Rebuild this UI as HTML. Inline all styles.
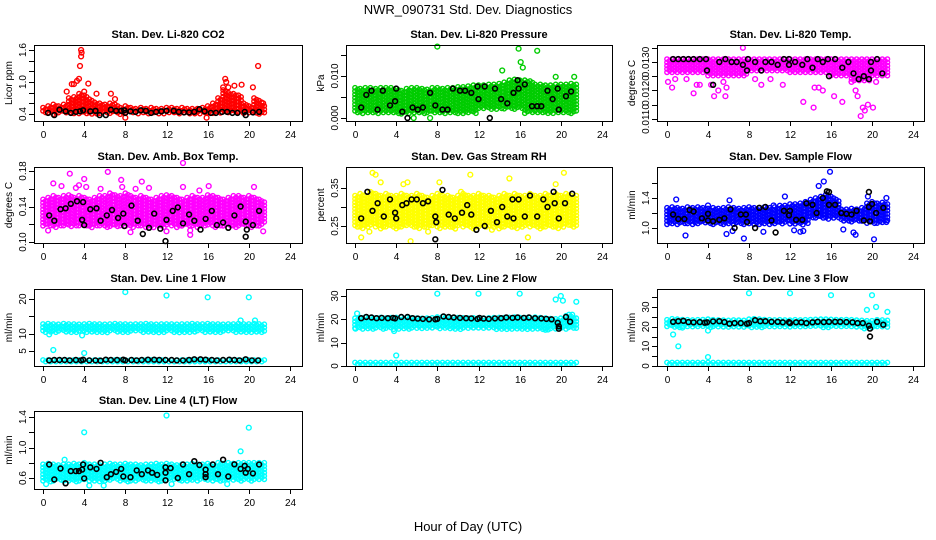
<!DOCTYPE html>
<html><head><meta charset="utf-8"><title>NWR_090731 Std. Dev. Diagnostics</title>
<style>html,body{margin:0;padding:0;background:#fff}svg{display:block}text{font-family:"Liberation Sans",Arial,sans-serif}</style>
</head><body>
<svg id="chart" width="936" height="540" viewBox="0 0 936 540" xmlns="http://www.w3.org/2000/svg">
<rect width="936" height="540" fill="#fff"/>
<text x="468" y="14" text-anchor="middle" font-size="13">NWR_090731 Std. Dev. Diagnostics</text>
<text x="468" y="531" text-anchor="middle" font-size="13">Hour of Day (UTC)</text>
</svg>
<script>
const hours=[0,0.5,1,1.5,2,2.5,3,3.5,4,4.5,5,5.5,6,6.5,7,7.5,8,8.5,9,9.5,10,10.5,11,11.5,12,12.5,13,13.5,14,14.5,15,15.5,16,16.5,17,17.5,18,18.5,19,19.5,20,20.5,21,21.5];
const xTicks=[0,4,8,12,16,20,24];

const co2Lo=[0.4,0.4,0.39,0.4,0.4,0.41,0.4,0.4,0.4,0.4,0.4,0.41,0.4,0.4,0.4,0.39,0.4,0.4,0.4,0.4,0.4,0.41,0.4,0.4,0.4,0.4,0.4,0.4,0.4,0.4,0.4,0.4,0.4,0.4,0.41,0.42,0.42,0.42,0.42,0.41,0.4,0.41,0.4,0.4];
const co2Hi=[0.52,0.55,0.58,0.55,0.58,0.7,0.72,0.78,0.75,0.68,0.62,0.6,0.58,0.6,0.58,0.52,0.55,0.52,0.5,0.52,0.5,0.52,0.5,0.5,0.52,0.52,0.5,0.52,0.5,0.5,0.5,0.52,0.55,0.6,0.7,0.85,0.8,0.78,0.75,0.6,0.55,0.7,0.65,0.55];
const co2Out=[[3.7,1.6],[3.75,1.55],[3.7,1.48],[3.6,1.3],[3.5,1.06],[3.3,1.02],[4.4,0.97],[2.8,0.96],[3.0,0.96],[4.0,0.82],[2.3,0.82],[5.2,0.78],[6.6,0.78],[7.0,0.68],[17.7,1.06],[17.8,1.0],[18.6,0.93],[19.3,0.95],[20.4,0.9],[20.9,1.3],[21.4,0.6],[8.0,0.33],[15.9,0.33],[17.5,0.9],[18.0,0.9]];
const co2Blk=[[0.5,0.42],[1.1,0.38],[1.6,0.48],[2.2,0.45],[2.7,0.42],[3.2,0.44],[3.6,0.45],[3.9,0.47],[4.6,0.45],[5.1,0.46],[5.5,0.38],[6.1,0.38],[6.6,0.48],[7.1,0.46],[7.6,0.46],[7.9,0.47],[8.0,0.42],[8.5,0.45],[9,0.44],[9.5,0.47],[10,0.46],[10.5,0.42],[11,0.44],[11.5,0.45],[12,0.46],[12.7,0.46],[13.2,0.44],[13.7,0.43],[14.2,0.43],[14.7,0.44],[15.2,0.49],[15.7,0.45],[16.3,0.42],[16.8,0.42],[17.4,0.44],[17.9,0.44],[18.4,0.42],[18.9,0.42],[19.6,0.44],[19.7,0.38],[20.4,0.43],[21.0,0.44]];

const presLo=[0.001,0.001,0.001,0.001,0.001,0.001,0.001,0.001,0.001,0.001,0.001,0.001,0.001,0.001,0.001,0.001,0.001,0.001,0.001,0.001,0.001,0.001,0.001,0.001,0.002,0.002,0.002,0.002,0.002,0.002,0.002,0.002,0.002,0.001,0.001,0.001,0.001,0.001,0.001,0.001,0.001,0.001,0.001,0.001];
const presHi=[0.0072,0.007,0.0072,0.0072,0.007,0.0072,0.0072,0.0072,0.007,0.0065,0.007,0.0072,0.0072,0.007,0.0068,0.0072,0.0072,0.007,0.0072,0.0072,0.0074,0.0074,0.0076,0.0078,0.0078,0.0078,0.008,0.008,0.0082,0.0085,0.009,0.0092,0.009,0.009,0.0088,0.008,0.008,0.0078,0.0078,0.008,0.008,0.008,0.0082,0.008];
const presOut=[[8,0.017],[15.9,0.0165],[17.7,0.016],[16.1,0.0133],[14.3,0.0113],[16.3,0.012],[19.5,0.0098],[21.3,0.0098],[7.3,0.0],[5.7,0.0]];
const presBlk=[[0.6,0.0025],[1.1,0.0055],[1.6,0.0065],[2.2,0.002],[2.7,0.0065],[3.4,0.003],[3.9,0.004],[4,0.007],[4.6,0.0015],[5.1,0.0],[5.6,0.0025],[6.1,0.002],[6.6,0.0025],[7.3,0.006],[7.8,0.003],[8.5,0.002],[9,0.002],[9.5,0.007],[10.2,0.0065],[10.7,0.0065],[11.3,0.006],[11.9,0.0075],[12,0.0045],[12.6,0.0075],[13.1,0.0],[13.6,0.007],[14.2,0.0045],[14.8,0.0035],[15.4,0.006],[15.8,0.009],[15.9,0.007],[16.5,0.008],[17.2,0.0028],[17.7,0.0028],[18.1,0.0028],[18.7,0.0065],[19.2,0.0045],[19.7,0.007],[19.8,0.002],[20.5,0.0052],[21,0.0063]];

const tempLo=[0.0126,0.0126,0.0126,0.0126,0.0126,0.0126,0.0126,0.0126,0.0125,0.0125,0.0125,0.0125,0.0125,0.0125,0.0125,0.0125,0.01265,0.01265,0.01265,0.01265,0.01265,0.01265,0.01265,0.01265,0.0126,0.0126,0.0126,0.0126,0.0126,0.0126,0.0126,0.0126,0.0125,0.0125,0.0125,0.0125,0.0123,0.0123,0.0123,0.0123,0.0125,0.0125,0.0125,0.0125];
const tempHi=[0.0131,0.0131,0.0131,0.0131,0.0131,0.0131,0.0131,0.0131,0.0131,0.0131,0.0131,0.0131,0.0131,0.0131,0.0131,0.0131,0.0131,0.0131,0.0131,0.0131,0.0131,0.0131,0.0131,0.0131,0.0131,0.0131,0.0131,0.0131,0.0131,0.0131,0.0131,0.0131,0.0131,0.0131,0.0131,0.0131,0.0131,0.0131,0.0131,0.0131,0.0131,0.0131,0.0131,0.0131];
const tempOut=[[0.1,0.0123],[0.5,0.0121],[0.8,0.0124],[1.9,0.0124],[2.6,0.0119],[2.9,0.0122],[3.2,0.0122],[4.3,0.0122],[4.6,0.0118],[5.0,0.012],[5.5,0.0123],[5.8,0.0121],[5.7,0.0118],[7.4,0.0135],[8.6,0.0124],[9.2,0.0122],[10.1,0.0124],[11.3,0.0122],[13.3,0.0116],[14.3,0.0114],[14.4,0.0121],[14.8,0.0121],[15.2,0.012],[16.3,0.0118],[17.1,0.0116],[18.0,0.0123],[18.4,0.012],[18.6,0.0118],[18.9,0.0111],[19.1,0.0114],[19.3,0.0113],[19.6,0.0115],[20.1,0.0114],[20.4,0.0123]];
const tempBlk=[[0.6,0.0131],[1.1,0.0131],[1.6,0.0131],[2.1,0.0131],[2.6,0.0131],[3.2,0.0131],[3.8,0.0131],[3.9,0.0127],[4.5,0.0122],[5.1,0.013],[5.7,0.0131],[6.3,0.013],[6.8,0.013],[7.4,0.0129],[7.9,0.0131],[7.8,0.0127],[8.6,0.013],[9.2,0.0127],[9.6,0.013],[10.2,0.013],[10.8,0.0129],[11.4,0.0131],[11.9,0.0131],[11.9,0.0129],[12.5,0.013],[13.2,0.0129],[13.7,0.0131],[14.2,0.0128],[14.7,0.0131],[15.2,0.013],[15.7,0.0131],[15.8,0.0125],[16.4,0.0131],[17.1,0.0128],[17.7,0.013],[18.2,0.0126],[18.7,0.0124],[19.2,0.0125],[19.7,0.0124],[19.9,0.0127],[19.9,0.013],[20.5,0.0131],[21,0.0126]];

const ambLo=[0.118,0.117,0.116,0.117,0.118,0.116,0.117,0.118,0.117,0.116,0.117,0.118,0.116,0.117,0.116,0.118,0.117,0.116,0.118,0.117,0.116,0.115,0.117,0.116,0.118,0.117,0.116,0.117,0.118,0.117,0.116,0.117,0.118,0.116,0.117,0.118,0.117,0.116,0.117,0.118,0.116,0.117,0.118,0.12];
const ambHi=[0.148,0.15,0.152,0.15,0.152,0.153,0.15,0.152,0.15,0.148,0.15,0.152,0.152,0.155,0.153,0.152,0.155,0.152,0.15,0.152,0.15,0.148,0.15,0.152,0.153,0.152,0.15,0.148,0.15,0.152,0.15,0.15,0.153,0.152,0.15,0.148,0.15,0.152,0.152,0.15,0.152,0.15,0.148,0.145];
const ambOut=[[1.0,0.166],[2.6,0.177],[3.2,0.161],[3.5,0.164],[4.0,0.171],[4.2,0.162],[5.6,0.16],[6.3,0.179],[7.6,0.17],[7.7,0.162],[9.0,0.16],[9.6,0.168],[10.3,0.161],[13.6,0.189],[13.6,0.162],[14.3,0.113],[15.2,0.158],[16.1,0.163],[20.5,0.162],[21.4,0.112],[12.0,0.112],[0.5,0.113],[1.8,0.163],[8.5,0.111],[14.3,0.108]];
const ambBlk=[[0.6,0.13],[1.1,0.124],[1.7,0.137],[2.2,0.138],[2.7,0.143],[3.3,0.146],[3.9,0.145],[3.8,0.125],[4.0,0.119],[4.6,0.137],[5.2,0.138],[5.6,0.124],[6.2,0.13],[6.7,0.136],[7.3,0.127],[7.8,0.132],[7.9,0.118],[8.6,0.141],[9.2,0.124],[9.7,0.109],[10.3,0.116],[10.8,0.132],[11.4,0.115],[11.9,0.101],[12.0,0.125],[12.6,0.135],[13.1,0.139],[13.6,0.121],[14.2,0.131],[14.7,0.124],[15.3,0.114],[15.8,0.126],[16.4,0.135],[16.9,0.119],[17.5,0.122],[18.0,0.116],[18.6,0.13],[19.2,0.14],[19.7,0.123],[19.8,0.114],[19.7,0.106],[20.4,0.119],[21.0,0.135]];

const rhLo=[0.245,0.24,0.245,0.25,0.245,0.24,0.245,0.245,0.24,0.245,0.25,0.245,0.24,0.245,0.245,0.25,0.24,0.245,0.245,0.24,0.25,0.245,0.245,0.24,0.245,0.245,0.25,0.245,0.24,0.245,0.245,0.24,0.245,0.25,0.245,0.245,0.24,0.245,0.245,0.24,0.245,0.25,0.245,0.245];
const rhHi=[0.33,0.335,0.33,0.34,0.335,0.33,0.335,0.33,0.33,0.335,0.33,0.33,0.335,0.33,0.325,0.33,0.335,0.33,0.33,0.325,0.33,0.335,0.33,0.33,0.335,0.33,0.33,0.325,0.33,0.335,0.33,0.335,0.33,0.33,0.335,0.33,0.33,0.335,0.33,0.335,0.33,0.335,0.33,0.33];
const rhOut=[[0.6,0.22],[1.4,0.235],[1.7,0.39],[2.0,0.385],[2.5,0.365],[4.7,0.36],[5.1,0.365],[5.4,0.21],[8.2,0.365],[10.3,0.34],[11.2,0.385],[15.0,0.375],[16.8,0.22],[20.3,0.39],[19.5,0.36],[7.1,0.235],[13.3,0.24]];
const rhBlk=[[0.6,0.27],[1.2,0.34],[1.7,0.29],[2.2,0.31],[2.8,0.275],[3.4,0.32],[3.9,0.285],[4,0.27],[4.6,0.305],[5,0.31],[5.5,0.32],[6,0.32],[6.6,0.31],[7.1,0.315],[7.8,0.275],[7.9,0.26],[7.8,0.215],[8.5,0.345],[9.1,0.28],[9.7,0.27],[10.4,0.285],[10.9,0.305],[11.3,0.28],[11.8,0.24],[12.6,0.25],[13.2,0.29],[13.8,0.26],[14.3,0.3],[14.8,0.275],[15.3,0.32],[15.4,0.27],[15.9,0.32],[16.5,0.275],[17.0,0.33],[17.7,0.275],[18.3,0.32],[18.7,0.3],[19.3,0.34],[19.4,0.31],[19.8,0.27],[20.4,0.31],[21.1,0.335]];

const sfLo=[1.05,1.04,1.05,1.06,1.05,1.04,1.05,1.06,1.05,1.04,1.05,1.05,1.04,1.05,1.06,1.05,1.04,1.05,1.05,1.06,1.05,1.04,1.05,1.06,1.05,1.05,1.04,1.05,1.12,1.12,1.13,1.12,1.12,1.12,1.08,1.08,1.07,1.08,1.08,1.06,1.06,1.06,1.07,1.06];
const sfHi=[1.27,1.28,1.27,1.26,1.28,1.27,1.28,1.27,1.26,1.27,1.26,1.27,1.28,1.27,1.26,1.27,1.28,1.27,1.27,1.28,1.27,1.28,1.3,1.3,1.32,1.32,1.33,1.35,1.38,1.4,1.42,1.45,1.42,1.38,1.25,1.25,1.26,1.25,1.27,1.33,1.35,1.33,1.34,1.32];
const sfOut=[[0.9,1.38],[1.8,0.9],[4.0,1.3],[6.1,1.37],[5.8,0.92],[7.5,0.86],[6.4,0.96],[9.4,0.95],[10.4,1.3],[11.5,1.42],[12.4,0.97],[13.3,0.96],[14.8,1.56],[15.3,1.62],[15.9,1.75],[17.2,0.98],[18.2,0.94],[18.4,0.91],[19.6,1.42],[20.2,0.85],[21.4,1.4],[21.4,1.08],[13.0,0.95]];
const sfBlk=[[0.6,1.18],[1.1,1.12],[1.7,1.12],[2.2,1.24],[2.6,1.22],[3.4,1.13],[4,1.19],[4,1.1],[4.5,1.09],[5.1,1.11],[5.6,1.13],[6.2,1.25],[6.6,1.0],[7.2,1.18],[7.7,1.18],[7.8,1.08],[8.6,1.0],[9.0,1.27],[9.6,1.28],[10.2,1.1],[10.6,0.94],[11.4,1.23],[11.9,1.17],[12.0,1.23],[12.6,1.11],[13.2,1.11],[13.6,1.33],[14.2,1.31],[14.6,1.2],[15.2,1.4],[15.6,1.49],[15.8,1.48],[15.8,1.31],[16.4,1.31],[17.0,1.2],[17.5,1.19],[18.0,1.18],[18.5,1.23],[19.2,1.1],[19.7,1.48],[19.7,1.28],[19.8,1.09],[20.0,1.32],[20.4,1.2],[21.1,1.27]];

const l1Lo=[10.4,10.3,10.4,10.5,10.3,10.4,10.3,10.5,10.4,10.3,10.4,10.4,10.3,10.5,10.4,10.3,10.4,10.4,10.5,10.3,10.4,10.4,10.3,10.4,10.5,10.4,10.3,10.4,10.4,10.3,10.5,10.4,10.4,10.3,10.4,10.4,10.5,10.3,10.4,10.4,10.3,10.4,10.4,10.5];
const l1Hi=[12.8,12.9,12.8,12.7,12.9,12.8,12.8,12.7,12.8,12.9,12.8,12.8,12.7,12.8,12.9,12.8,12.8,12.7,12.8,12.8,12.9,12.8,12.7,12.8,12.8,12.8,12.7,12.8,12.8,12.9,12.8,12.8,12.9,12.8,12.8,12.7,12.8,12.8,12.9,12.8,12.8,12.9,12.8,12.7];
const l1bLo=[1.7,1.7,1.7,1.7,1.7,1.7,1.7,1.7,1.7,1.7,1.7,1.7,1.7,1.7,1.7,1.7,1.7,1.7,1.7,1.7,1.7,1.7,1.7,1.7,1.7,1.7,1.7,1.7,1.7,1.7,1.7,1.7,1.7,1.7,1.7,1.7,1.7,1.7,1.7,1.7,1.7,1.7,1.7,1.7];
const l1bHi=[2.4,2.4,2.4,2.4,2.4,2.4,2.4,2.4,2.4,2.4,2.4,2.4,2.4,2.4,2.4,2.4,2.4,2.4,2.4,2.4,2.4,2.4,2.4,2.4,2.4,2.4,2.4,2.4,2.4,2.4,2.4,2.4,2.4,2.4,2.4,2.4,2.4,2.4,2.4,2.4,2.4,2.4,2.4,2.4];
const l1Out=[[1.0,5.3],[4.0,4.4],[3.8,9.5],[0.6,9.8],[8,22],[12,21],[16,20.5],[20,20.5],[19.2,13.8],[20.6,13.8]];
const l1Blk=[[0.6,2.3],[1.1,2.4],[1.6,2.4],[2.1,2.4],[2.6,2.3],[3.2,2.4],[3.7,2.3],[3.9,2.5],[4.5,2.3],[5.1,2.3],[5.6,2.2],[6.1,2.5],[6.6,2.4],[7.2,2.4],[7.8,2.5],[8.0,2.3],[8.6,2.4],[9.1,2.3],[9.6,2.4],[10.2,2.5],[10.8,2.5],[11.3,2.4],[11.9,2.4],[12.5,2.4],[13.0,2.3],[13.6,2.3],[14.2,2.4],[14.7,2.6],[15.3,2.6],[15.8,2.5],[16.4,2.4],[16.9,2.3],[17.5,2.4],[18.1,2.5],[18.6,2.4],[19.1,2.3],[19.7,2.6],[20.3,2.3],[20.9,2.3]];

const l2Lo=[15.8,15.9,15.8,15.7,15.8,15.9,15.8,15.8,15.7,15.8,15.8,15.9,15.8,15.7,15.8,15.8,15.9,15.8,15.8,15.7,15.8,15.8,15.9,15.8,15.8,15.7,15.8,15.8,15.9,15.8,15.8,15.7,15.8,15.8,15.8,15.9,15.8,15.6,15.5,15.6,15.8,15.8,15.7,15.8];
const l2Hi=[20.5,20.8,21,20.8,20.6,20.8,20.5,20.7,20.8,21,20.8,20.6,20.5,20.4,20.5,20.6,21,21.2,21,20.8,20.7,20.6,20.5,20.6,20.6,20.5,20.6,20.7,20.8,20.7,20.8,20.9,20.8,20.7,20.8,20.9,20.7,20.5,20.3,20.2,20.5,21.5,21.2,20.5];
const l2bLo=[0.4,0.4,0.4,0.4,0.4,0.4,0.4,0.4,0.4,0.4,0.4,0.4,0.4,0.4,0.4,0.4,0.4,0.4,0.4,0.4,0.4,0.4,0.4,0.4,0.4,0.4,0.4,0.4,0.4,0.4,0.4,0.4,0.4,0.4,0.4,0.4,0.4,0.4,0.4,0.4,0.4,0.4,0.4,0.4];
const l2bHi=[1.5,1.5,1.5,1.5,1.5,1.5,1.5,1.5,1.5,1.5,1.5,1.5,1.5,1.5,1.5,1.5,1.5,1.5,1.5,1.5,1.5,1.5,1.5,1.5,1.5,1.5,1.5,1.5,1.5,1.5,1.5,1.5,1.5,1.5,1.5,1.5,1.5,1.5,1.5,1.5,1.5,1.5,1.5,1.5];
const l2Out=[[0.2,22.5],[0.05,16],[3.8,15],[4,4.5],[8,31],[12,31],[16,31],[19.5,28.5],[20,30],[20.2,28],[21.5,27.5],[20.8,22],[21.1,22],[18.5,15.5]];
const l2Blk=[[0.6,20.5],[1.1,21],[1.6,20.8],[2.1,20.5],[2.6,20.6],[3.2,20.5],[3.7,20.6],[3.9,20.4],[4.5,21],[5.1,21],[5.6,20.5],[6.1,20.3],[6.6,20.2],[7.2,20],[7.8,20],[8.0,20.2],[8.6,21.2],[9.1,21],[9.6,20.8],[10.2,20.6],[10.8,20.5],[11.3,20.4],[11.9,20.2],[12.1,20.6],[12.5,20.3],[13.0,20.2],[13.6,20.4],[14.2,20.5],[14.7,20.8],[15.3,20.6],[15.8,20.8],[16.4,20.6],[16.9,20.8],[17.5,20.5],[18.1,20.4],[18.6,20.2],[19.1,20],[19.7,18.5],[19.8,17],[19.8,16],[20.5,21],[20.9,19]];

const l3Lo=[19.6,19.5,19.6,19.5,19.4,19.5,19.6,19.5,19.4,19.5,19.6,19.5,19.4,19.5,19.6,19.5,19.6,19.7,19.6,19.5,19.6,19.5,19.4,19.6,19.5,19.6,19.5,19.6,19.7,19.6,19.5,19.6,19.7,19.6,19.6,19.5,19.4,19.2,19,19.3,19.5,19.6,19.5,19.6];
const l3Hi=[23.5,24,23.8,23.6,23.5,23.4,23.5,23.6,23.8,23.5,23.4,23.3,23.2,23.4,23.3,23.2,23.8,24,23.8,23.6,23.5,23.4,23.5,23.4,23.3,23.5,23.4,23.5,23.6,23.7,23.8,23.8,23.7,23.6,23.5,23.6,23.5,23.3,23.2,23,23,23.5,23.4,23.2];
const l3bLo=[0.6,0.6,0.6,0.6,0.6,0.6,0.6,0.6,0.6,0.6,0.6,0.6,0.6,0.6,0.6,0.6,0.6,0.6,0.6,0.6,0.6,0.6,0.6,0.6,0.6,0.6,0.6,0.6,0.6,0.6,0.6,0.6,0.6,0.6,0.6,0.6,0.6,0.6,0.6,0.6,0.6,0.6,0.6,0.6];
const l3bHi=[1.8,1.8,1.8,1.8,1.8,1.8,1.8,1.8,1.8,1.8,1.8,1.8,1.8,1.8,1.8,1.8,1.8,1.8,1.8,1.8,1.8,1.8,1.8,1.8,1.8,1.8,1.8,1.8,1.8,1.8,1.8,1.8,1.8,1.8,1.8,1.8,1.8,1.8,1.8,1.8,1.8,1.8,1.8,1.8];
const l3Out=[[0.6,16],[1.1,10],[1.5,19.5],[4,18],[4,4.5],[8,37],[12,37],[16,36],[19.5,28.5],[20,36],[20.4,30],[21.5,27.5]];
const l3Blk=[[0.6,22.5],[1.1,22.8],[1.6,23],[2.1,22.3],[2.6,22.2],[3.2,22.3],[3.7,22],[3.9,22.2],[4.5,22.7],[5.1,22.8],[5.6,22.3],[6.1,21.5],[6.6,21.8],[7.2,21.8],[7.8,21.5],[8.0,21.8],[8.6,23.3],[9.1,22.8],[9.6,22.8],[10.2,22.5],[10.8,22.5],[11.3,22.2],[11.9,22.3],[12.0,21.8],[12.6,22.2],[13.1,22.2],[13.6,21.8],[14.2,22.2],[14.7,22.5],[15.3,22.3],[15.8,22.5],[16.4,22.5],[16.9,22.5],[17.5,22.3],[18.1,22.2],[18.6,21.8],[19.1,21.8],[19.7,20.5],[19.8,19],[19.8,15],[20.5,22.5],[21.1,21]];

const l4Lo=[0.56,0.55,0.56,0.57,0.56,0.56,0.55,0.56,0.57,0.56,0.56,0.55,0.56,0.56,0.57,0.56,0.55,0.56,0.56,0.57,0.56,0.56,0.55,0.56,0.56,0.57,0.56,0.56,0.55,0.56,0.56,0.57,0.56,0.56,0.55,0.56,0.57,0.56,0.56,0.57,0.56,0.57,0.58,0.58];
const l4Hi=[0.78,0.79,0.78,0.77,0.78,0.78,0.79,0.78,0.8,0.78,0.78,0.77,0.78,0.79,0.78,0.78,0.79,0.78,0.78,0.77,0.78,0.78,0.79,0.78,0.79,0.78,0.77,0.78,0.78,0.79,0.78,0.78,0.79,0.78,0.8,0.79,0.8,0.79,0.8,0.8,0.8,0.8,0.8,0.8];
const l4Out=[[4,1.2],[12,1.42],[20,1.26],[19.2,0.95],[5.9,0.5],[2.1,0.84],[4.5,0.5],[0.3,0.52],[12.5,0.52],[17.9,0.52]];
const l4Blk=[[0.6,0.777],[1.1,0.58],[1.7,0.725],[2.2,0.53],[2.7,0.69],[3.2,0.69],[3.5,0.69],[3.9,0.777],[3.8,0.71],[4.0,0.595],[4.6,0.74],[5.2,0.72],[5.6,0.8],[6.2,0.61],[6.6,0.65],[7.1,0.68],[7.6,0.72],[7.8,0.62],[8.5,0.61],[9.1,0.7],[9.6,0.65],[10.2,0.7],[10.6,0.67],[11.1,0.64],[11.9,0.74],[11.9,0.57],[11.9,0.67],[12.4,0.73],[13.1,0.6],[13.6,0.777],[14.2,0.65],[14.7,0.82],[15.2,0.77],[15.8,0.71],[15.8,0.65],[15.8,0.61],[16.5,0.777],[17.0,0.65],[17.5,0.84],[18.0,0.62],[18.6,0.78],[19.2,0.72],[19.6,0.76],[19.7,0.67],[19.9,0.72],[20.4,0.66],[21.0,0.777]];

const colBox=[[34,302,43,290],[346,612,355,602],[657,924,667,913]];
const rowBox=[[45,121],[167,243],[289,366],[411,489]];

const panels=[
 {id:'co2',title:'Stan. Dev. Li-820 CO2',ylab:'Licor ppm',c:0,r:0,color:'#ff0000',ref:[0.4,114,1.6,50],ticks:[0.4,0.6,0.8,1.0,1.2,1.4,1.6],labels:[[0.4,'0.4'],[1.0,'1.0'],[1.6,'1.6']],bands:[[co2Lo,co2Hi]],out:co2Out,blk:co2Blk},
 {id:'pressure',title:'Stan. Dev. Li-820 Pressure',ylab:'kPa',c:1,r:0,color:'#00cc00',ref:[0,118,0.010,76],ticks:[0,0.005,0.010,0.015],labels:[[0,'0.000'],[0.010,'0.010']],bands:[[presLo,presHi]],out:presOut,blk:presBlk},
 {id:'li820-temp',title:'Stan. Dev. Li-820 Temp.',ylab:'degrees C',c:2,r:0,color:'#ff00ff',ref:[0.0110,119,0.0130,62],ticks:[0.0110,0.0115,0.0120,0.0125,0.0130,0.0135],labels:[[0.0110,'0.0110'],[0.0120,'0.0120'],[0.0130,'0.0130']],bands:[[tempLo,tempHi]],out:tempOut,blk:tempBlk},
 {id:'amb-box-temp',title:'Stan. Dev. Amb. Box Temp.',ylab:'degrees C',c:0,r:1,color:'#ff00ff',ref:[0.10,242,0.18,171],ticks:[0.10,0.12,0.14,0.16,0.18],labels:[[0.10,'0.10'],[0.14,'0.14'],[0.18,'0.18']],bands:[[ambLo,ambHi]],out:ambOut,blk:ambBlk},
 {id:'gas-rh',title:'Stan. Dev. Gas Stream RH',ylab:'percent',c:1,r:1,color:'#ffff00',ref:[0.25,226,0.35,188],ticks:[0.25,0.30,0.35],labels:[[0.25,'0.25'],[0.35,'0.35']],bands:[[rhLo,rhHi]],out:rhOut,blk:rhBlk},
 {id:'sample-flow',title:'Stan. Dev. Sample Flow',ylab:'ml/min',c:2,r:1,color:'#0000ff',ref:[1.0,228,1.4,198],ticks:[1.0,1.2,1.4,1.6],labels:[[1.0,'1.0'],[1.4,'1.4']],bands:[[sfLo,sfHi]],out:sfOut,blk:sfBlk},
 {id:'line1-flow',title:'Stan. Dev. Line 1 Flow',ylab:'ml/min',c:0,r:2,color:'#00ffff',ref:[5,351,20,299],ticks:[5,10,15,20],labels:[[5,'5'],[10,'10'],[20,'20']],bands:[[l1Lo,l1Hi],[l1bLo,l1bHi]],out:l1Out,blk:l1Blk},
 {id:'line2-flow',title:'Stan. Dev. Line 2 Flow',ylab:'ml/min',c:1,r:2,color:'#00ffff',ref:[0,366,30,296],ticks:[0,10,20,30],labels:[[0,'0'],[10,'10'],[20,'20'],[30,'30']],bands:[[l2Lo,l2Hi],[l2bLo,l2bHi]],out:l2Out,blk:l2Blk},
 {id:'line3-flow',title:'Stan. Dev. Line 3 Flow',ylab:'ml/min',c:2,r:2,color:'#00ffff',ref:[0,366,30,307],ticks:[0,5,10,15,20,25,30,35],labels:[[0,'0'],[10,'10'],[20,'20'],[30,'30']],bands:[[l3Lo,l3Hi],[l3bLo,l3bHi]],out:l3Out,blk:l3Blk},
 {id:'line4-flow',title:'Stan. Dev. Line 4 (LT) Flow',ylab:'ml/min',c:0,r:3,color:'#00ffff',ref:[0.6,478,1.4,417],ticks:[0.6,0.8,1.0,1.2,1.4],labels:[[0.6,'0.6'],[1.0,'1.0'],[1.4,'1.4']],bands:[[l4Lo,l4Hi]],out:l4Out,blk:l4Blk}
];

const NS='http://www.w3.org/2000/svg';
const svg=document.getElementById('chart');
function mk(tag,attrs,parent){const e=document.createElementNS(NS,tag);for(const k in attrs)e.setAttribute(k,attrs[k]);parent.appendChild(e);return e;}

panels.forEach(p=>{
  const [bx0,bx1,hx0,hx24]=colBox[p.c];
  const [by0,by1]=rowBox[p.r];
  const xs=h=>hx0+(h/24)*(hx24-hx0);
  const [v1,y1,v2,y2]=p.ref;
  const ys=v=>y1+(v-v1)*(y2-y1)/(v2-v1);
  const g=mk('g',{},svg);
  
  
  const t=mk('text',{x:(bx0+bx1)/2,y:by0-7,'text-anchor':'middle','font-size':'11','font-weight':'bold'},g);
  t.textContent=p.title;
  
  
  const pts=mk('g',{fill:'none','stroke-width':'1.4'},g);
  
  
  p.bands.forEach(b=>{
    const lo=b[0],hi=b[1];
    hours.forEach((h,i)=>{
      [0,0.25].forEach((dx,k)=>{
        const hh=h+dx; if(hh>21.6) return;
        const ya=ys(hi[i]),yb=ys(lo[i]);
        for(let y=ya+(k?1.6:0);y<=yb+0.1;y+=3.3){
          const c=mk('circle',{cx:xs(hh).toFixed(1),cy:y.toFixed(1),r:'2.2',stroke:p.color},pts);
          
          
        }
      });
    });
  });
  p.out.forEach(d=>{
    const c=mk('circle',{cx:xs(d[0]).toFixed(1),cy:ys(d[1]).toFixed(1),r:'2.4',stroke:p.color},pts);
    
    
  });
  p.blk.forEach(d=>{
    const c=mk('circle',{cx:xs(d[0]).toFixed(1),cy:ys(d[1]).toFixed(1),r:'2.4',stroke:'#000','stroke-width':'1.6'},pts);
    
    
  });
  const box=mk('rect',{x:bx0+0.5,y:by0+0.5,width:bx1-bx0,height:by1-by0,fill:'none',stroke:'#000','stroke-width':'1'},g);
  
  
  const xa=mk('g',{},g);
  
  
  mk('line',{x1:xs(0),x2:xs(24),y1:by1+0.5,y2:by1+0.5,stroke:'#000'},xa);
  xTicks.forEach(v=>{
    const x=Math.round(xs(v))+0.5;
    mk('line',{x1:x,x2:x,y1:by1,y2:by1+5,stroke:'#000'},xa);
    const tl=mk('text',{x:x,y:by1+17,'text-anchor':'middle','font-size':'10'},xa);
    tl.textContent=String(v);
    
    
  });
  const ya=mk('g',{},g);
  
  
  const yt=p.ticks.map(ys);
  mk('line',{x1:bx0+0.5,x2:bx0+0.5,y1:Math.min(...yt),y2:Math.max(...yt),stroke:'#000'},ya);
  yt.forEach(y=>{
    const yy=Math.round(y)+0.5;
    mk('line',{x1:bx0-5,x2:bx0,y1:yy,y2:yy,stroke:'#000'},ya);
  });
  p.labels.forEach(l=>{
    const y=ys(l[0]);
    const tl=mk('text',{x:0,y:0,'text-anchor':'middle','font-size':'10',transform:'translate('+(bx0-8)+','+y.toFixed(1)+') rotate(-90)'},ya);
    tl.textContent=l[1];
    
    
  });
  const yl=mk('text',{x:0,y:0,'text-anchor':'middle','font-size':'10',transform:'translate('+(bx0-22)+','+((by0+by1)/2)+') rotate(-90)'},g);
  yl.textContent=p.ylab;
  
  
});
</script>
</body></html>
